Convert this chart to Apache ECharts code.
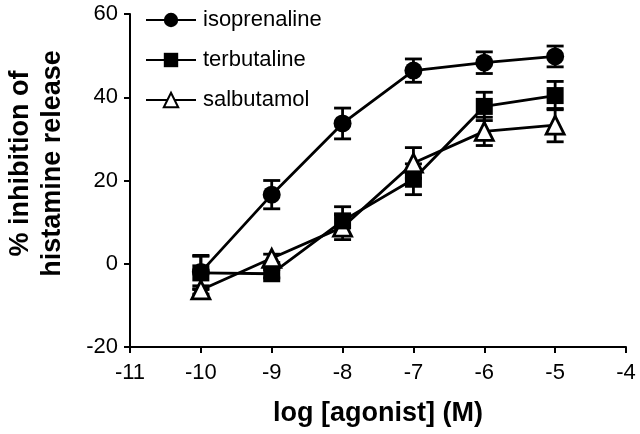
<!DOCTYPE html>
<html><head><meta charset="utf-8">
<script src="https://cdn.jsdelivr.net/npm/echarts@6/dist/echarts.min.js"></script>
<style>html,body{margin:0;padding:0;background:#fff}#c{width:640px;height:434px}</style>
</head><body><div id="c"></div>
<script>
var xVals = [-10, -9, -8, -7, -6, -5];
var isoprenaline = [-2, 16.6, 33.7, 46.4, 48.3, 49.8];
var isoprenalineErr = [4, 3.4, 3.7, 2.8, 2.6, 2.5];
var terbutaline = [-2.2, -2.4, 10.3, 20.3, 37.8, 40.4];
var terbutalineErr = [4, 1, 3.4, 3.7, 3.4, 3.4];
var salbutamol = [-6.3, 1.3, 8.8, 24.2, 31.8, 33.3];
var salbutamolErr = [1, 1, 3, 3.7, 3.4, 4];
var xTicks = [-11, -10, -9, -8, -7, -6, -5, -4];
var yTicks = [-20, 0, 20, 40, 60];

var FONT = '"Liberation Sans", Arial, sans-serif';

function pts(v) { return xVals.map(function (x, i) { return [x, v[i]]; }); }
function errData(v, e) { return xVals.map(function (x, i) { return [x, v[i] - e[i], v[i] + e[i]]; }); }

function errSeries(v, e) {
  return {
    type: 'custom',
    data: errData(v, e),
    z: 1,
    silent: true,
    renderItem: function (params, api) {
      var x = api.value(0);
      var lo = api.coord([x, api.value(1)]);
      var hi = api.coord([x, api.value(2)]);
      var hw = 8.5;
      var st = { stroke: '#000', lineWidth: 2.8 };
      return {
        type: 'group',
        children: [
          { type: 'line', shape: { x1: lo[0], y1: lo[1], x2: hi[0], y2: hi[1] }, style: st },
          { type: 'line', shape: { x1: lo[0] - hw, y1: lo[1], x2: lo[0] + hw, y2: lo[1] }, style: st },
          { type: 'line', shape: { x1: hi[0] - hw, y1: hi[1], x2: hi[0] + hw, y2: hi[1] }, style: st }
        ]
      };
    }
  };
}

function lineSeries(name, v, symbol, size, fill) {
  return {
    name: name,
    type: 'line',
    data: pts(v),
    symbol: symbol,
    symbolSize: size,
    showAllSymbol: true,
    z: 3,
    lineStyle: { color: '#000', width: 2.8 },
    itemStyle: { color: fill, borderColor: '#000', borderWidth: fill === '#fff' ? 2.8 : 0 },
    emphasis: { disabled: true }
  };
}

var chart = echarts.init(document.getElementById('c'), null, { renderer: 'canvas' });
chart.setOption({
  animation: false,
  backgroundColor: '#fff',
  grid: { left: 130, right: 14, top: 14, bottom: 87, containLabel: false, outerBoundsMode: 'none' },
  legend: {
    orient: 'vertical',
    left: 145,
    top: 9,
    padding: 0,
    itemWidth: 50,
    itemHeight: 18,
    itemGap: 18,
    textStyle: { fontFamily: FONT, fontSize: 22, color: '#000', lineHeight: 22, padding: [0, 0, 0, 2] },
    data: ['isoprenaline', 'terbutaline', 'salbutamol']
  },
  xAxis: {
    type: 'value',
    min: -11, max: -4, interval: 1,
    name: 'log [agonist] (M)',
    nameLocation: 'middle',
    nameGap: 53,
    nameTextStyle: { fontFamily: FONT, fontSize: 27, fontWeight: 'bold', color: '#000' },
    axisLine: { onZero: false, lineStyle: { color: '#000', width: 2 } },
    axisTick: { length: 6, lineStyle: { color: '#000', width: 2 } },
    axisLabel: { fontFamily: FONT, fontSize: 22, color: '#000', margin: 15,
      formatter: function (v) { return xTicks.indexOf(v) >= 0 ? String(v) : ''; } },
    splitLine: { show: false }
  },
  yAxis: {
    type: 'value',
    min: -20, max: 60, interval: 20,
    name: '% inhibition of\nhistamine release',
    nameLocation: 'middle',
    nameGap: 61,
    nameRotate: 90,
    nameTextStyle: { fontFamily: FONT, fontSize: 27, fontWeight: 'bold', color: '#000', lineHeight: 32, padding: [0, 0, 0, 34] },
    axisLine: { onZero: false, lineStyle: { color: '#000', width: 2 } },
    axisTick: { length: 6, lineStyle: { color: '#000', width: 2 } },
    axisLabel: { fontFamily: FONT, fontSize: 22, color: '#000', margin: 12,
      formatter: function (v) { return yTicks.indexOf(v) >= 0 ? String(v) : ''; } },
    splitLine: { show: false }
  },
  series: [
    errSeries(isoprenaline, isoprenalineErr),
    errSeries(terbutaline, terbutalineErr),
    errSeries(salbutamol, salbutamolErr),
    lineSeries('salbutamol', salbutamol, 'triangle', 18, '#fff'),
    lineSeries('terbutaline', terbutaline, 'rect', 17, '#000'),
    lineSeries('isoprenaline', isoprenaline, 'circle', 18, '#000')
  ]
});
</script></body></html>
